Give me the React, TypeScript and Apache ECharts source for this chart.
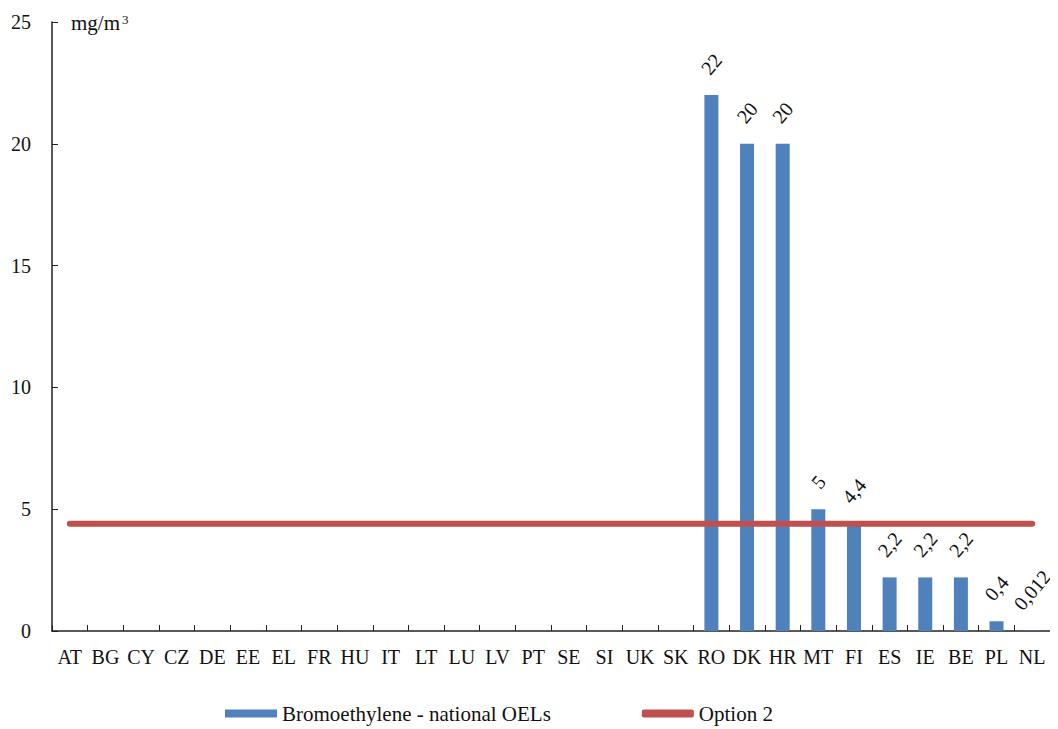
import React, { useEffect, useRef } from "react";
import * as echarts from "echarts";

const categories = ["AT","BG","CY","CZ","DE","EE","EL","FR","HU","IT","LT","LU","LV","PT","SE","SI","UK","SK","RO","DK","HR","MT","FI","ES","IE","BE","PL","NL"];
const nationalOELs: (number | null)[] = [null,null,null,null,null,null,null,null,null,null,null,null,null,null,null,null,null,null,22,20,20,5,4.4,2.2,2.2,2.2,0.4,0.012];
const option2: number[] = [4.4,4.4,4.4,4.4,4.4,4.4,4.4,4.4,4.4,4.4,4.4,4.4,4.4,4.4,4.4,4.4,4.4,4.4,4.4,4.4,4.4,4.4,4.4,4.4,4.4,4.4,4.4,4.4];
const yTicks = { min: 0, max: 25, interval: 5 };

const FONT = "'Liberation Serif', 'Times New Roman', serif";
const LABEL_FS = 20;
const ROT = 50;

const fmt = (v: number) => String(v).replace(".", ",");

// distance from bar top to the centre of a rotated, centred label
function labelDistance(text: string): number {
  let w = 0;
  for (const ch of text) w += ch === "," ? 0.25 * LABEL_FS : 0.5 * LABEL_FS;
  const a = (ROT * Math.PI) / 180;
  const half = (w * Math.sin(a) + LABEL_FS * Math.cos(a)) / 2;
  return 17 + half;
}

export default function App() {
  const ref = useRef<HTMLDivElement>(null);
  useEffect(() => {
    if (!ref.current) return;
    const chart = echarts.init(ref.current, undefined, { renderer: "svg" });
    const barData = nationalOELs.map((v) =>
      v == null ? null : { value: v, label: { distance: labelDistance(fmt(v)) } }
    );
    chart.setOption({
      animation: false,
      backgroundColor: "#ffffff",
      textStyle: { fontFamily: FONT },
      grid: { left: 44, right: 8, top: 14, bottom: 98, containLabel: false },
      xAxis: {
        type: "category",
        data: categories,
        axisLine: { lineStyle: { color: "#222", width: 1.5 } },
        axisTick: { show: true, inside: true, length: 6, alignWithLabel: false, lineStyle: { color: "#222" } },
        axisLabel: { color: "#111", fontSize: 20, fontFamily: FONT, margin: 16, interval: 0 },
        splitLine: { show: false },
      },
      yAxis: {
        type: "value",
        min: yTicks.min,
        max: yTicks.max,
        interval: yTicks.interval,
        axisLine: { show: true, lineStyle: { color: "#222", width: 1.5 } },
        axisTick: { show: true, inside: true, length: 6, lineStyle: { color: "#222" } },
        axisLabel: { color: "#111", fontSize: 20, fontFamily: FONT, margin: 21 },
        splitLine: { show: false },
      },
      legend: {
        bottom: 0,
        left: 212,
        itemGap: 91,
        itemWidth: 52,
        itemHeight: 8,
        textStyle: { color: "#111", fontSize: 21, fontFamily: FONT },
        data: [
          { name: "Bromoethylene - national OELs", icon: "rect" },
          { name: "Option 2", icon: "roundRect", itemStyle: { color: "#C0504D" } },
        ],
      },
      series: [
        {
          name: "Bromoethylene - national OELs",
          type: "bar",
          data: barData,
          barWidth: 14,
          itemStyle: { color: "#4F81BD" },
          label: {
            show: true,
            position: "top",
            rotate: ROT,
            align: "center",
            verticalAlign: "middle",
            color: "#111",
            fontSize: LABEL_FS,
            fontFamily: FONT,
            formatter: (p: any) => (p.value == null ? "" : fmt(p.value)),
          },
          z: 2,
        },
        {
          name: "Option 2",
          type: "line",
          data: option2,
          symbol: "none",
          lineStyle: { color: "#C0504D", width: 6, cap: "round" },
          itemStyle: { color: "#C0504D" },
          z: 3,
        },
      ],
      graphic: [
        {
          type: "text",
          x: 63,
          y: 15,
          style: { text: "mg/m", fontSize: 21, fontFamily: FONT, fill: "#111", verticalAlign: "middle", align: "left" },
        },
        {
          type: "text",
          x: 114,
          y: 11,
          style: { text: "3", fontSize: 13, fontFamily: FONT, fill: "#111", verticalAlign: "middle", align: "left" },
        },
      ],
    });
    return () => chart.dispose();
  }, []);
  return <div ref={ref} style={{ width: 1050, height: 721 }} />;
}
